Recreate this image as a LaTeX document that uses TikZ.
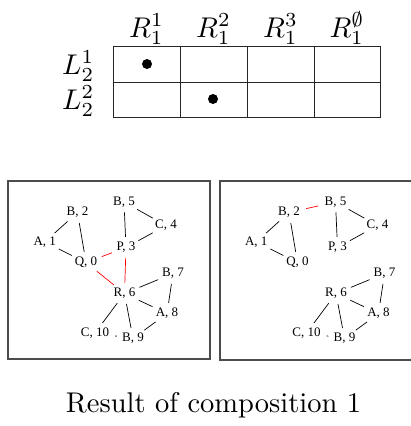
\documentclass[tikz,border=0pt]{standalone}
\usepackage{fontspec}
\newfontfamily\gfont{Liberation Serif}
\usetikzlibrary{shapes.geometric}
\begin{document}
\begin{tikzpicture}[x=1pt,y=-1pt,
  gn/.style={ellipse,inner sep=2pt,font=\gfont\fontsize{13}{15}\selectfont},
  ge/.style={draw=black,line width=0.7pt},
  re/.style={draw=red,line width=0.7pt},
  lab/.style={scale=2.85,inner sep=0pt},
  tline/.style={draw=black!85,line width=0.8pt},
  frame/.style={draw=black!70,line width=1.2pt}]
\useasboundingbox (0,0) rectangle (410,426);
% table
\draw[tline] (113,46) rectangle (380,117);
\draw[tline] (113,82) -- (380,82);
\draw[tline] (180,46) -- (180,117);
\draw[tline] (247,46) -- (247,117);
\draw[tline] (314,46) -- (314,117);
\fill (147,64) circle (5);
\fill (213,99) circle (5);
\node[lab,anchor=base] (h1) at (146.5,37) {$R_1^1$};
\node[lab,anchor=base] (h2) at (213.5,37) {$R_1^2$};
\node[lab,anchor=base] (h3) at (280.5,37) {$R_1^3$};
\node[lab,anchor=base] (h4) at (347,37) {$R_1^\emptyset$};
\node[lab,anchor=east] (l1) at (95,66) {$L_2^1$};
\node[lab,anchor=east] (l2) at (95,101) {$L_2^2$};
% frames
\draw[frame] (8,181) rectangle (210,359);
\draw[frame] (220,181) rectangle (414,360);
% left graph
\begin{scope}
\node[gn] (a1) at (44.7,242) {A, 1};
\node[gn] (b2) at (77.5,212.5) {B, 2};
\node[gn] (q0) at (86,262.5) {Q, 0};
\node[gn] (b5) at (124,202) {B, 5};
\node[gn] (c4) at (166,225.5) {C, 4};
\node[gn] (p3) at (126,247.5) {P, 3};
\node[gn] (r6) at (124.5,293.5) {R, 6};
\node[gn] (b7) at (173,273.5) {B, 7};
\node[gn] (a8) at (167,313.5) {A, 8};
\node[gn] (c10) at (95,333) {C, 10};
\node[gn] (b9) at (133,338.5) {B, 9};
\draw[ge] (a1) -- (b2);
\draw[ge] (a1) -- (q0);
\draw[ge] (b2) -- (q0);
\draw[ge] (b5) -- (p3);
\draw[ge] (b5) -- (c4);
\draw[ge] (c4) -- (p3);
\draw[re] (q0) -- (p3);
\draw[re] (p3) -- (r6);
\draw[re] (q0) -- (r6);
\draw[ge] (r6) -- (b7);
\draw[ge] (b7) -- (a8);
\draw[ge] (r6) -- (a8);
\draw[ge] (r6) -- (c10);
\draw[ge] (r6) -- (b9);
\draw[ge] (c10) -- (b9);
\draw[ge] (a8) -- (b9);
\end{scope}
% right graph
\begin{scope}[xshift=211.5pt]
\node[gn] (ra1) at (44.7,242) {A, 1};
\node[gn] (rb2) at (77.5,212.5) {B, 2};
\node[gn] (rq0) at (86,262.5) {Q, 0};
\node[gn] (rb5) at (124,202) {B, 5};
\node[gn] (rc4) at (166,225.5) {C, 4};
\node[gn] (rp3) at (126,247.5) {P, 3};
\node[gn] (rr6) at (124.5,293.5) {R, 6};
\node[gn] (rb7) at (173,273.5) {B, 7};
\node[gn] (ra8) at (167,313.5) {A, 8};
\node[gn] (rc10) at (95,333) {C, 10};
\node[gn] (rb9) at (133,338.5) {B, 9};
\draw[ge] (ra1) -- (rb2);
\draw[ge] (ra1) -- (rq0);
\draw[ge] (rb2) -- (rq0);
\draw[re] (rb2) -- (rb5);
\draw[ge] (rb5) -- (rp3);
\draw[ge] (rb5) -- (rc4);
\draw[ge] (rc4) -- (rp3);
\draw[ge] (rr6) -- (rb7);
\draw[ge] (rb7) -- (ra8);
\draw[ge] (rr6) -- (ra8);
\draw[ge] (rr6) -- (rc10);
\draw[ge] (rr6) -- (rb9);
\draw[ge] (rc10) -- (rb9);
\draw[ge] (ra8) -- (rb9);
\end{scope}
% caption
\node[lab,anchor=base] (cap) at (213.5,412) {Result of composition 1};
\end{tikzpicture}
\end{document}
